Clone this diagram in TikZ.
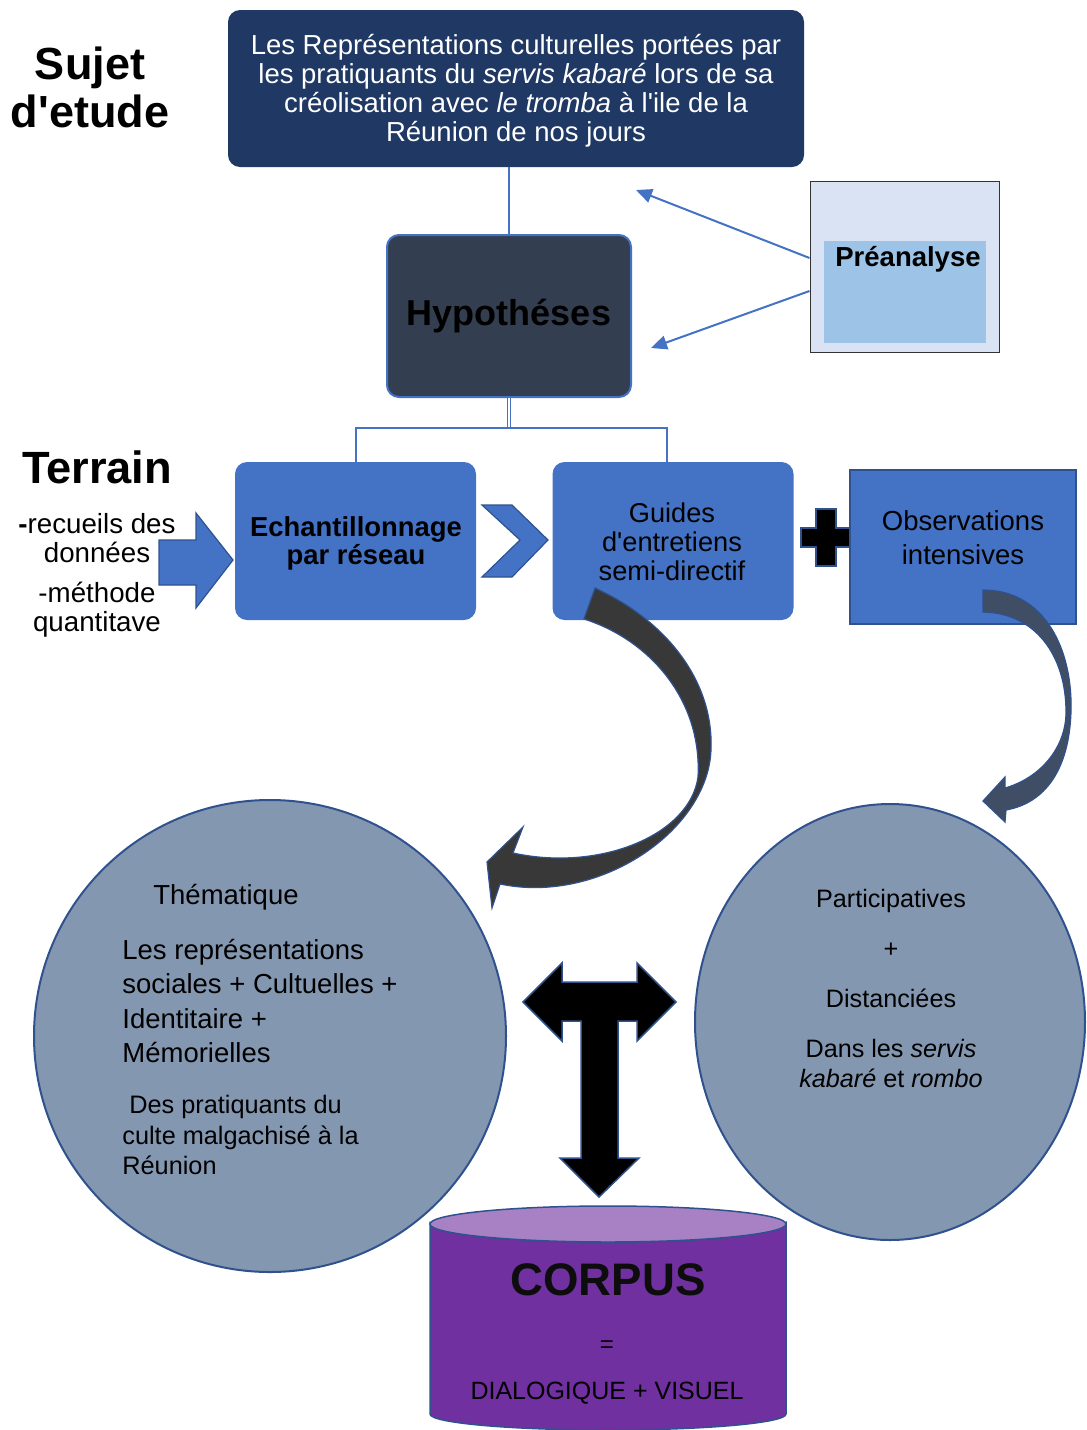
\documentclass[tikz,border=0pt]{standalone}
\usepackage{fontspec}
\setmainfont{Liberation Sans}
\usetikzlibrary{positioning,arrows.meta,shapes.geometric,calc}

\definecolor{navybox}{HTML}{1F3864}
\definecolor{slatebox}{HTML}{333F50}
\definecolor{blueblk}{HTML}{4472C4}
\definecolor{borderblue}{HTML}{2F528F}
\definecolor{prelight}{HTML}{DAE3F3}
\definecolor{preinner}{HTML}{9DC3E6}
\definecolor{greyblue}{HTML}{8497B0}
\definecolor{purplebody}{HTML}{7030A0}
\definecolor{purpletop}{HTML}{A881C5}
\definecolor{darkarrow}{HTML}{383838}
\definecolor{slatearrow}{HTML}{3F4E64}

\newcommand{\setfs}[2]{\fontsize{#1}{#2}\selectfont}
\newcommand{\apos}{\textquotesingle}

\begin{document}
\begin{tikzpicture}[
    x=0.5pt, y=-0.5pt,
    title/.style={font=\setfs{22.5}{24}\bfseries, align=center, inner sep=0pt},
    txt/.style={font=\setfs{13.75}{14.5}, align=center, inner sep=0pt},
    block/.style={rectangle, rounded corners=6pt, fill=blueblk, minimum width=120.5pt, minimum height=79pt, inner sep=0pt, align=center},
    link/.style={draw=blueblk, line width=1pt},
    thinarrow/.style={-{Triangle[length=8pt,width=7pt]}, draw=blueblk, line width=1pt},
    bigarrow/.style={fill=blueblk, draw=borderblue, line width=0.6pt},
    bubble/.style={fill=greyblue, draw=borderblue, line width=1pt, inner sep=0pt}
]
\useasboundingbox (0,0) rectangle (1087,1430);

% Subject
\node[title] (sujet) at (90,87) {Sujet\\d\apos etude};
\node[rectangle, rounded corners=6pt, fill=navybox, minimum width=288pt, minimum height=78.5pt] (subject) at (516,88.5) {};
\node[txt, text=white] (subjecttext) at (516,90.5)
      {Les Représentations culturelles portées par\\les pratiquants du \textit{servis kabaré} lors de sa\\créolisation avec \textit{le tromba} à l\apos ile de la\\Réunion de nos jours};

% Hypotheses
\node[rectangle, rounded corners=6pt, fill=slatebox, draw=blueblk, line width=1pt,
      minimum width=122pt, minimum height=81pt, font=\setfs{18}{20}\bfseries] (hypo) at (509,316) {Hypothéses};
\draw[link] (hypo.north) -- (hypo.north |- subject.south);

% Preanalyse
\node[rectangle, fill=prelight, draw=black!80, line width=0.5pt, minimum width=94.5pt, minimum height=85.5pt] (preana) at (904.5,266.5) {};
\node[rectangle, fill=preinner, minimum width=81pt, minimum height=51pt] (preinner) at (905,292) {};
\node[font=\setfs{13.75}{15}\bfseries, inner sep=0pt] (pretext) at (908,259) {Préanalyse};
\coordinate (preA) at (636,190);
\coordinate (preB) at (651,348);
\draw[thinarrow] (preana.west |- 0,258) -- (preA);
\draw[thinarrow] (preana.west |- 0,291) -- (preB);

% Terrain
\node[title, font=\setfs{22.6}{24}\bfseries] (terrain) at (97,467) {Terrain};
\node[txt, font=\setfs{13.85}{14.5}] (terrainlist) at (97,575)
      {\textbf{-}recueils des\\données\\[5.5pt]-méthode\\quantitave};
\draw[bigarrow] (159,540) -- (196,540) -- (196,513) -- (233,560) -- (196,608) -- (196,585) -- (159,585) -- cycle;

% Field blocks
\node[block, font=\setfs{13.7}{14}\bfseries] (echant) at (355.5,541) {};
\node[txt, font=\setfs{13.7}{14}\bfseries] (echanttext) at (356,543) {Echantillonnage\\par réseau};
\node[block, font=\setfs{13.6}{14.5}] (guides) at (673,541) {};
\node[txt, font=\setfs{13.6}{14.5}] (guidestext) at (672,542) {Guides\\d\apos entretiens\\semi-directif};
\node[rectangle, fill=blueblk, draw=borderblue, line width=0.75pt, minimum width=113pt, minimum height=77pt] (obs) at (963,547) {};
\node[txt, font=\setfs{13.75}{17}] (obstext) at ([yshift=4.5pt]obs.center) {Observations\\intensives};
\draw[bigarrow] (482,505) -- (512,505) -- (548,540) -- (512,577) -- (482,577) -- (520,540) -- cycle;
\draw[fill=black, draw=borderblue, line width=0.6pt] (816,509) -- (836,509) -- (836,528) -- (850,528) -- (850,547) -- (836,547)
      -- (836,566) -- (816,566) -- (816,547) -- (801,547) -- (801,528) -- (816,528) -- cycle;

% Fork from hypotheses
\coordinate (fork) at ($(hypo.south)+(0,30)$);
\draw[link, double, double distance=0.8pt, line width=0.7pt] (hypo.south) -- (fork);
\draw[link] (echant.north) |- (fork) -| ([xshift=-3pt]guides.north);

% Circles
\node[bubble, circle, minimum size=236pt] (themes) at (270,1036) {};
\node[txt, anchor=west] (themtitle) at (153,897) {Thématique};
\node[txt, font=\setfs{13.75}{17.25}, align=left, anchor=west] (themlist) at (122,1001)
      {Les représentations\\sociales + Cultuelles +\\Identitaire +\\Mémorielles};
\node[txt, font=\setfs{12.65}{15.25}, align=left, anchor=west] (themwho) at (122,1135)
      {\hspace*{3.5pt}Des pratiquants du\\culte malgachisé à la\\Réunion};
\node[bubble, ellipse, minimum width=195pt, minimum height=218pt] (fieldobs) at (890,1022) {};
\node[txt, font=\setfs{12.6}{15}] (obslist) at (891,988)
      {Participatives\\[10pt]+\\[10pt]Distanciées\\[10pt]Dans les \textit{servis}\\\textit{kabaré} et \textit{rombo}};

% Curved arrows
\filldraw[fill=darkarrow, draw=borderblue, line width=0.6pt]
      (595,588) .. controls (665,620) and (714,680) .. (711,750)
      .. controls (708,830) and (600,905) .. (500,884)
      -- (492,908) -- (487,862) -- (523,827) -- (513,853)
      .. controls (600,872) and (690,835) .. (698,777)
      .. controls (702,700) and (650,640) .. (584,619) -- cycle;
\filldraw[fill=slatearrow, draw=borderblue, line width=0.6pt]
      (983,590) .. controls (1045,590) and (1073,650) .. (1071,712)
      .. controls (1069,770) and (1045,803) .. (1006,810)
      -- (1005,822) -- (983,801) -- (1005,777) -- (1005,788)
      .. controls (1040,778) and (1066,748) .. (1066,712)
      .. controls (1066,655) and (1035,613) .. (983,612) -- cycle;

% T arrow
\draw[fill=black, draw=borderblue, line width=0.75pt]
      (523,1002) -- (562,963) -- (562,982) -- (637,982) -- (637,963) -- (676,1002) -- (637,1041) -- (637,1021)
      -- (618,1021) -- (618,1158) -- (639,1158) -- (599,1197) -- (560,1158) -- (581,1158) -- (581,1021)
      -- (562,1021) -- (562,1041) -- cycle;

% Corpus cylinder
\filldraw[fill=purplebody, draw=borderblue, line width=0.75pt]
      (430,1224) -- (430,1414) arc[start angle=180, end angle=0, x radius=178, y radius=16]
      -- (786,1224) arc[start angle=0, end angle=180, x radius=178, y radius=18] -- cycle;
\filldraw[fill=purpletop, draw=borderblue, line width=0.75pt] (608,1224) ellipse [x radius=178, y radius=18];
\node[font=\setfs{22.8}{24}\bfseries, text=black!95, inner sep=0pt] (corpus) at (608,1280) {CORPUS};
\node[txt, font=\setfs{12}{14}] (eqsign) at (607,1347) {=};
\node[txt, font=\setfs{12.5}{14}] (corpusdesc) at (607,1393) {DIALOGIQUE + VISUEL};

\end{tikzpicture}
\end{document}
